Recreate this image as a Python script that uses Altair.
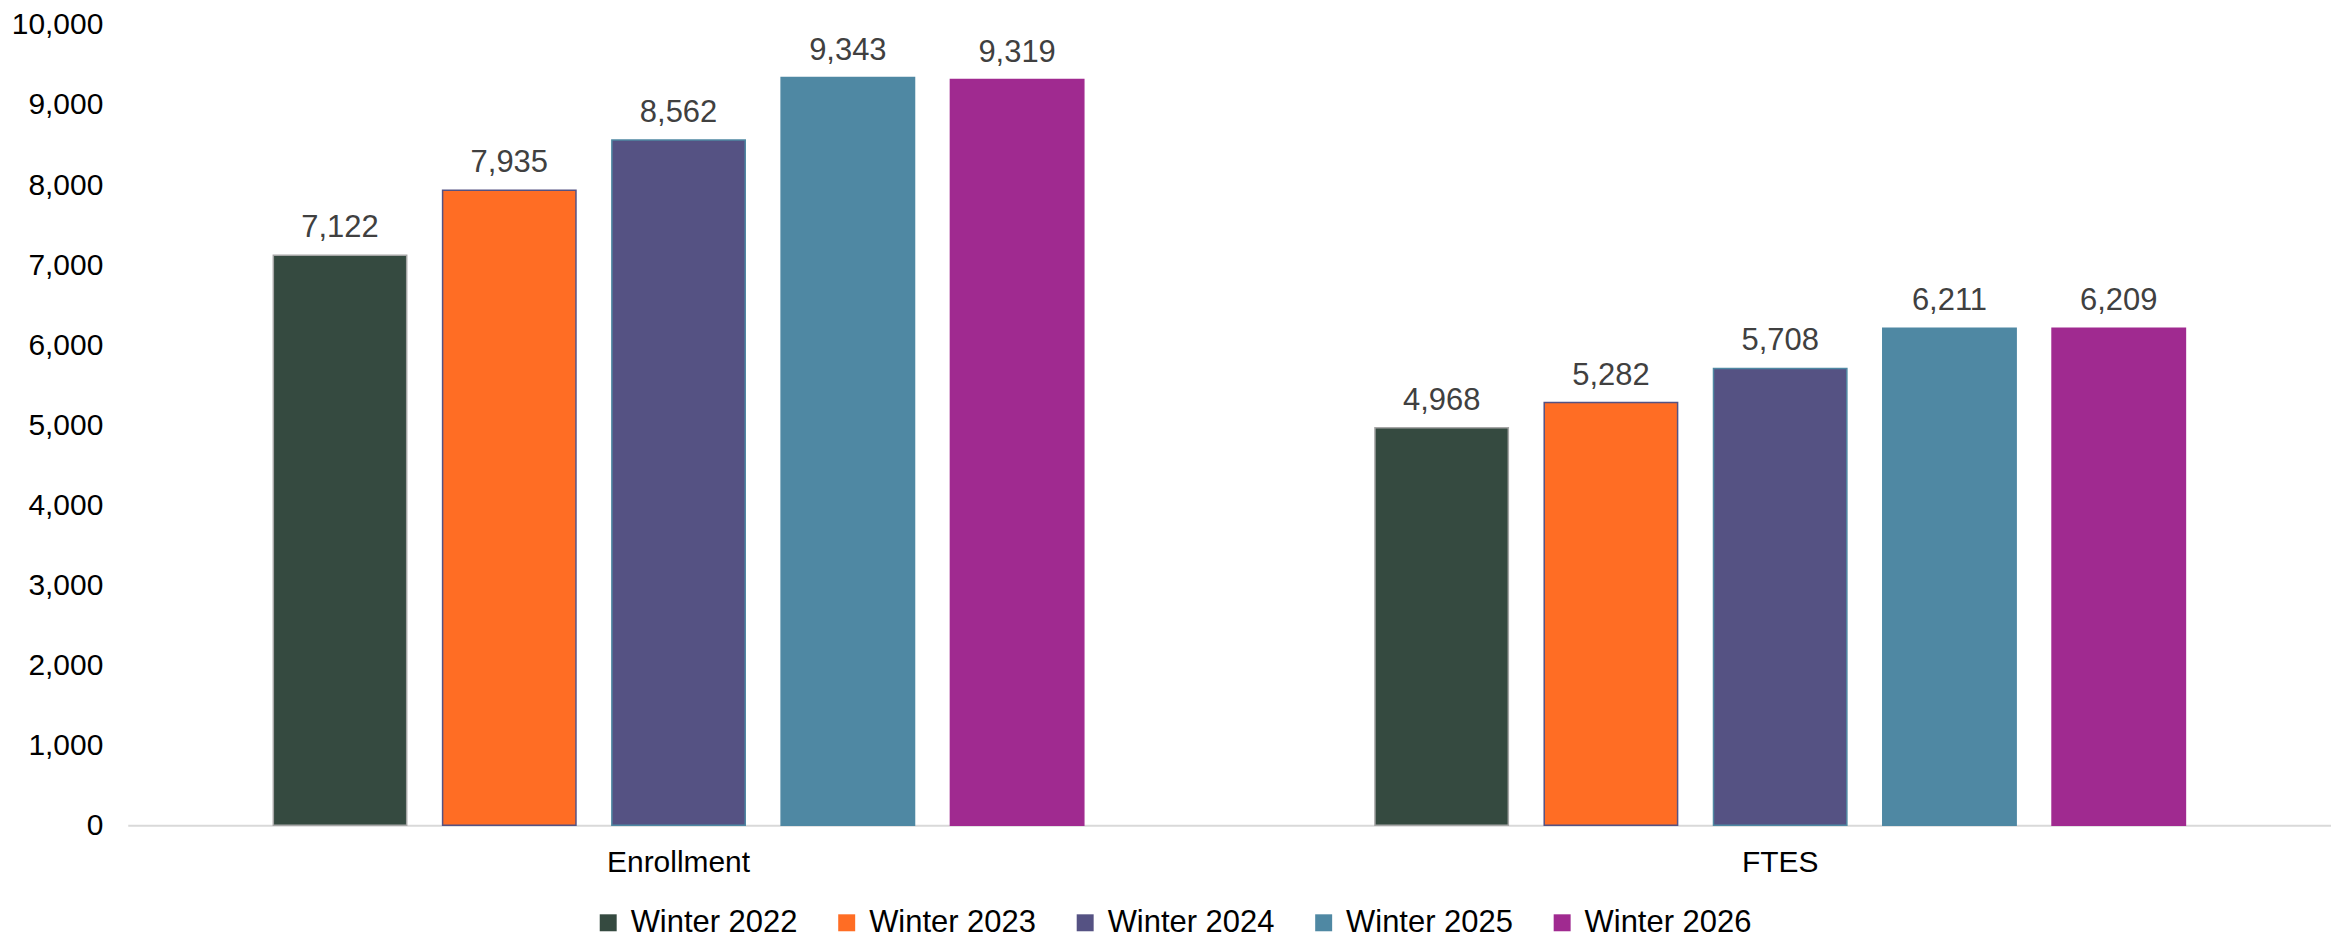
import altair as alt
import pandas as pd

categories = ["Enrollment", "FTES"]
terms = ["Winter 2022", "Winter 2023", "Winter 2024", "Winter 2025", "Winter 2026"]
enrollment = [7122, 7935, 8562, 9343, 9319]
ftes = [4968, 5282, 5708, 6211, 6209]
colors = ["#354a40", "#ff6d24", "#555283", "#4f88a3", "#a02a90"]
strokes = ["#a6a6a6", "#555283", "#4f88a3", "#4f88a3", "#a02a90"]

rows = []
for cat, vals in zip(categories, [enrollment, ftes]):
    for t, v in zip(terms, vals):
        rows.append({"Category": cat, "Term": t, "Value": v})
df = pd.DataFrame(rows)

FONT = "Liberation Sans"

x = alt.X("Category:N", sort=categories, title=None,
          scale=alt.Scale(paddingInner=0, paddingOuter=0),
          axis=alt.Axis(labelAngle=0, labelFontSize=30, labelColor="#000000", labelFont=FONT,
                        ticks=False, domainColor="#d9d9d9", domainWidth=2, labelPadding=22))
xo = alt.XOffset("Term:N", sort=terms,
                 scale=alt.Scale(paddingInner=0.212, paddingOuter=0.86))
y = alt.Y("Value:Q", title=None,
          scale=alt.Scale(domain=[0, 10000]),
          axis=alt.Axis(values=list(range(0, 10001, 1000)), format=",.0f", grid=False,
                        domain=False, ticks=False, labelFontSize=30, labelColor="#000000",
                        labelFont=FONT, labelPadding=25))

bars = alt.Chart(df).mark_bar(strokeWidth=1.5).encode(
    x=x, xOffset=xo, y=y,
    color=alt.Color("Term:N", sort=terms, title=None,
                    scale=alt.Scale(domain=terms, range=colors),
                    legend=alt.Legend(orient="none", direction="horizontal", columns=5,
                                      legendX=466, legendY=884,
                                      symbolType="square", symbolSize=289,
                                      symbolStrokeWidth=0, labelLimit=0,
                                      labelFontSize=31, labelFont=FONT, labelColor="#000000",
                                      labelOffset=7, columnPadding=33)),
    stroke=alt.Stroke("Term:N", sort=terms, scale=alt.Scale(domain=terms, range=strokes),
                      legend=None),
)

labels = alt.Chart(df).mark_text(baseline="alphabetic", dy=-18, fontSize=31,
                                 font=FONT, color="#404040").encode(
    x=x, xOffset=xo, y=y,
    text=alt.Text("Value:Q", format=",.0f"),
)

chart = alt.layer(bars, labels).properties(
    width=2208, height=802,
    autosize=alt.AutoSizeParams(type="none"),
    padding={"left": 120, "top": 16, "right": 0, "bottom": 117},
).configure_view(stroke=None)

chart.save("out.html", embed_options={"renderer": "svg", "actions": False})
